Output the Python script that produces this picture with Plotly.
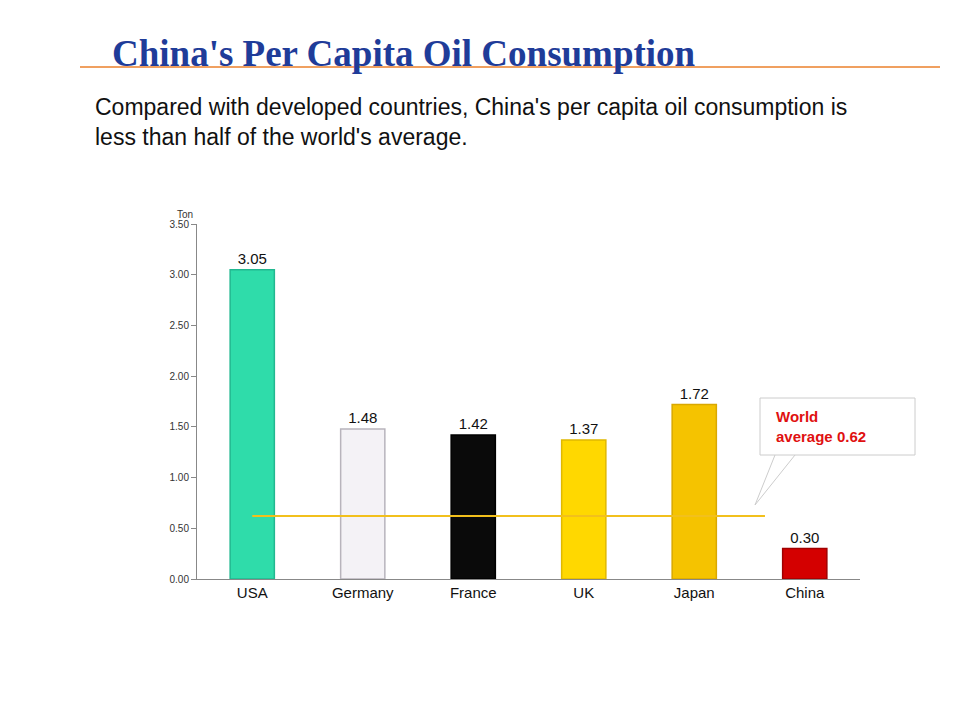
import plotly.graph_objects as go

countries = ["USA", "Germany", "France", "UK", "Japan", "China"]
values = [3.05, 1.48, 1.42, 1.37, 1.72, 0.30]
colors = ["#2fdcaa", "#f4f2f6", "#0a0a0a", "#ffd800", "#f5c300", "#d40000"]
borders = ["#22b890", "#b8b4bc", "#000000", "#e0b800", "#d9a800", "#a00000"]
world_avg = 0.62
yticks = [0, 0.5, 1.0, 1.5, 2.0, 2.5, 3.0, 3.5]

fig = go.Figure(go.Bar(
    x=list(range(len(countries))), y=values, width=0.4,
    marker=dict(color=colors, line=dict(color=borders, width=1.5)),
    text=[f"{v:.2f}" for v in values], textposition="outside",
    textfont=dict(family="Arial", size=15, color="#111"), cliponaxis=False))

fig.add_shape(type="line", xref="x", yref="y", x0=0, x1=4.64, y0=world_avg, y1=world_avg,
              line=dict(color="#f2c01c", width=2))
# callout
fig.add_shape(type="rect", xref="paper", yref="paper", x0=(760-197)/663, x1=(915-197)/663,
              y0=(579-455)/355, y1=(579-398)/355, line=dict(color="#cccccc", width=1),
              fillcolor="white", layer="below")
fig.add_shape(type="path", xref="paper", yref="paper",
              path=f"M {(775-197)/663} {(579-455)/355} L {(755-197)/663} {(579-505)/355} L {(795-197)/663} {(579-455)/355}",
              line=dict(color="#cccccc", width=1))
fig.add_annotation(xref="paper", yref="paper", x=(774-197)/663, y=(579-426)/355, xanchor="left",
                   text="<b>World<br>average 0.62</b>", showarrow=False, align="left",
                   font=dict(family="Arial", size=15, color="#e01010"))

fig.add_annotation(xref="paper", yref="paper", x=(175-197)/663, y=(579-207)/355, text="Ton",
                   showarrow=False, font=dict(family="Arial", size=10, color="#333"))
fig.add_annotation(xref="paper", yref="paper", x=(110-197)/663, y=(579-31)/355, xanchor="left",
                   text="<b>China's Per Capita Oil Consumption</b>", showarrow=False,
                   font=dict(family="Liberation Serif", size=37, color="#1f3c99"))
fig.add_shape(type="line", xref="paper", yref="paper", x0=(80-197)/663, x1=(940-197)/663,
              y0=(579-67)/355, y1=(579-67)/355, line=dict(color="#f0a060", width=2))
fig.add_annotation(xref="paper", yref="paper", x=(93-197)/663, y=(579-92)/355, xanchor="left",
                   text="Compared with developed countries, China's per capita oil consumption is<br>less than half of the world's average.",
                   showarrow=False, align="left", font=dict(family="Arial", size=23, color="#111"))

fig.update_layout(width=961, height=721, margin=dict(l=189, r=109, t=216, b=150),
                  plot_bgcolor="white", paper_bgcolor="white", showlegend=False,
                  xaxis=dict(tickvals=list(range(6)), ticktext=countries, range=[-0.5, 5.5],
                             showline=True, linecolor="#888", ticks="outside", ticklen=0,
                             tickfont=dict(family="Arial", size=15, color="#111")),
                  yaxis=dict(range=[0, 3.5], tickvals=yticks, tickformat=".2f", showgrid=False,
                             showline=True, linecolor="#888", ticks="outside", ticklen=5, tickcolor="#888",
                             tickfont=dict(family="Arial", size=10, color="#333")))
fig.write_html("out.html")
